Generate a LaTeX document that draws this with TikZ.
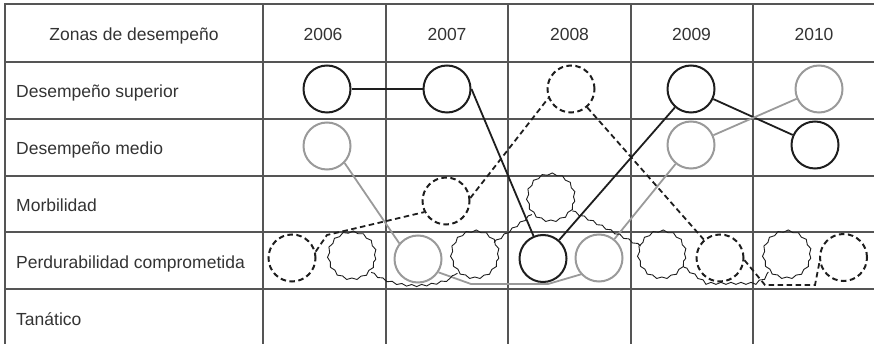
\documentclass[tikz,border=0pt]{standalone}
\usepackage{fontspec}
\setmainfont{Liberation Sans}
\usetikzlibrary{decorations.pathmorphing}
\definecolor{gridc}{HTML}{555555}
\definecolor{ink}{HTML}{1E1E1E}
\definecolor{greyc}{HTML}{9A9A9A}
\definecolor{txt}{HTML}{333333}
\begin{document}
\begin{tikzpicture}[x=1pt,y=-1pt,
  gridline/.style={draw=gridc, line width=1.6pt},
  lbl/.style={text=txt, font=\fontsize{17.5}{21}\selectfont, inner sep=0pt},
  ring/.style={circle, minimum size=47pt, inner sep=0pt, line width=2pt},
  bring/.style={ring, draw=ink},
  gring/.style={ring, draw=greyc},
  dring/.style={ring, draw=ink, dash pattern=on 5.5pt off 3.5pt},
  wring/.style={ring, draw=ink, line width=0.9pt, decorate, decoration={snake, segment length=10pt, amplitude=1pt}},
  bl/.style={draw=ink, line width=1.8pt},
  gl/.style={draw=greyc, line width=1.8pt},
  dl/.style={draw=ink, line width=1.8pt, dash pattern=on 5.5pt off 3.5pt},
  wl/.style={draw=ink, line width=0.9pt, decorate, decoration={snake, segment length=10pt, amplitude=1pt}},
]
\useasboundingbox (0,0) rectangle (874,344);
\clip (0,0) rectangle (874,344);
% grid
\foreach \y in {4,62,119,176,232,289} \draw[gridline] (4.2,\y) -- (880,\y);
\foreach \x in {5,263,386,508,631,753} \draw[gridline] (\x,3.2) -- (\x,350);
% texts
\node[lbl, anchor=base] (hz) at (134,40.5) {Zonas de desempeño};
\node[lbl, anchor=base] (y06) at (323,40.5) {2006};
\node[lbl, anchor=base] (y07) at (447,40.5) {2007};
\node[lbl, anchor=base] (y08) at (569.5,40.5) {2008};
\node[lbl, anchor=base] (y09) at (691.5,40.5) {2009};
\node[lbl, anchor=base] (y10) at (814,40.5) {2010};
\node[lbl, anchor=base west] (r1) at (16,98) {Desempeño superior};
\node[lbl, anchor=base west] (r2) at (16,155) {Desempeño medio};
\node[lbl, anchor=base west] (r3) at (16,211.7) {Morbilidad};
\node[lbl, anchor=base west] (r4) at (16,268.3) {Perdurabilidad comprometida};
\node[lbl, anchor=base west] (r5) at (16,325) {Tanático};
% circles
\node[bring] (s06) at (327,89) {};
\node[bring] (s07) at (447,89) {};
\node[dring] (s08) at (571,89) {};
\node[bring] (s09) at (691,89) {};
\node[gring] (s10) at (819,89) {};
\node[gring] (m06) at (327,146) {};
\node[gring] (m09) at (691,145) {};
\node[bring] (m10) at (815,145) {};
\node[dring] (b07) at (446,201) {};
\node[wring] (b08) at (551,200) {};
\node[dring] (p06d) at (292,258) {};
\node[wring] (p06w) at (352,258) {};
\node[gring] (p07g) at (418,259) {};
\node[wring] (p07w) at (475,257) {};
\node[bring] (p08b) at (543,258.5) {};
\node[gring] (p08g) at (599,258) {};
\node[wring] (p09w) at (662,257) {};
\node[dring] (p09d) at (720,258) {};
\node[wring] (p10w) at (787,257) {};
\node[dring] (p10d) at (843.5,257.5) {};
% helper coordinates
\coordinate (g1) at (471,284);
\coordinate (g2) at (548,284);
\coordinate (dA) at (327,235);
\coordinate (d1) at (765,285);
\coordinate (d2) at (815,285);
\coordinate (w1) at (703,281);
\coordinate (w2) at (753,281);
% black connectors
\draw[bl] (s06) -- (s07);
\draw[bl] (s07.east) -- (p08b);
\draw[bl] (p08b) -- (s09);
\draw[bl] (s09) -- (m10);
% grey connectors
\draw[gl] (m06.-44) -- (p07g.140);
\draw[gl] (p07g.-33) -- (g1) -- (g2) -- (p08g.222);
\draw[gl] (p08g) -- (m09);
\draw[gl] (m09) -- (s10);
% dashed connectors
\draw[dl] (p06d.15) -- (dA) -- (b07.207);
\draw[dl] (b07.7) -- (s08.202);
\draw[dl] (s08) -- (p09d);
\draw[dl] (p09d.-5) -- (d1) -- (d2) -- (p10d.191);
% wavy connectors
\draw[wl] (p06w.-37) .. controls (395,288) and (430,288) .. (p07w.223);
\draw[wl] (p07w) -- (b08);
\draw[wl] (b08) -- (p09w);
\draw[wl] (p09w.-25) -- (w1) -- (w2) -- (p10w.219);
\end{tikzpicture}
\end{document}
